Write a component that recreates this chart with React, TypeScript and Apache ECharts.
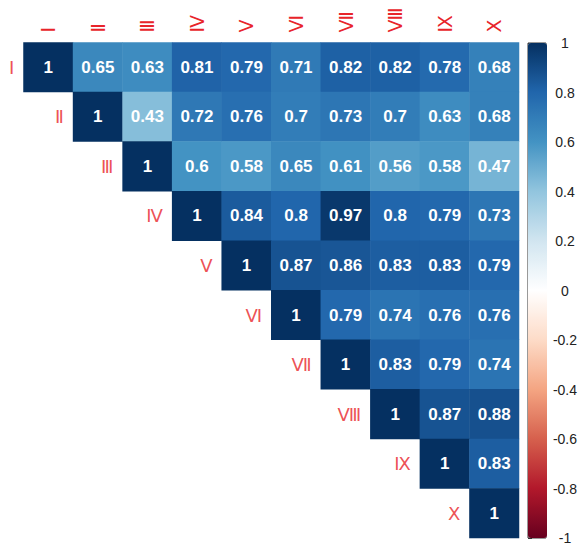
import React, { useEffect, useRef } from "react";
import * as echarts from "echarts";

const labels = ["Ⅰ", "Ⅱ", "Ⅲ", "Ⅳ", "Ⅴ", "Ⅵ", "Ⅶ", "Ⅷ", "Ⅸ", "Ⅹ"];

// upper triangle rows, starting at the diagonal
const rowI = [1, 0.65, 0.63, 0.81, 0.79, 0.71, 0.82, 0.82, 0.78, 0.68];
const rowII = [1, 0.43, 0.72, 0.76, 0.7, 0.73, 0.7, 0.63, 0.68];
const rowIII = [1, 0.6, 0.58, 0.65, 0.61, 0.56, 0.58, 0.47];
const rowIV = [1, 0.84, 0.8, 0.97, 0.8, 0.79, 0.73];
const rowV = [1, 0.87, 0.86, 0.83, 0.83, 0.79];
const rowVI = [1, 0.79, 0.74, 0.76, 0.76];
const rowVII = [1, 0.83, 0.79, 0.74];
const rowVIII = [1, 0.87, 0.88];
const rowIX = [1, 0.83];
const rowX = [1];
const rows = [rowI, rowII, rowIII, rowIV, rowV, rowVI, rowVII, rowVIII, rowIX, rowX];

const palette = [
  "#67001F", "#B2182B", "#D6604D", "#F4A582", "#FDDBC7", "#FFFFFF",
  "#D1E5F0", "#92C5DE", "#4393C3", "#2166AC", "#053061",
];

export default function App() {
  const ref = useRef<HTMLDivElement>(null);
  useEffect(() => {
    if (!ref.current) return;
    const chart = echarts.init(ref.current, undefined, { renderer: "svg" });
    const cells: any[] = [];
    rows.forEach((r, i) => {
      r.forEach((v, k) => {
        cells.push([i + k, i, v]);
      });
    });
    const rowLabelData = labels.map((l, i) => [i, i]);
    chart.setOption({
      animation: false,
      grid: [
        { left: 23.5, top: 42.5, width: 495.5, height: 495.5 },
        {
          left: 528, top: 43, width: 19, height: 495, show: true,
          borderColor: "#333", borderWidth: 1, backgroundColor: "transparent",
        },
      ],
      xAxis: [
        {
          type: "category", data: labels, position: "top", gridIndex: 0,
          axisLine: { show: false }, axisTick: { show: false }, splitLine: { show: false },
          axisLabel: {
            rotate: -90, color: "#E8242A", fontSize: 19, margin: 10,
            fontFamily: "DejaVu Sans",
          },
        },
        { type: "value", gridIndex: 1, show: false, min: 0, max: 1 },
      ],
      yAxis: [
        {
          type: "category", data: labels, inverse: true, gridIndex: 0,
          axisLine: { show: false }, axisTick: { show: false },
          axisLabel: { show: false }, splitLine: { show: false },
        },
        {
          type: "value", gridIndex: 1, min: -1, max: 1, interval: 0.2, position: "right",
          axisLine: { show: false }, splitLine: { show: false },
          axisTick: { show: true, length: 4, lineStyle: { color: "#333" } },
          axisLabel: {
            color: "#222", fontSize: 14, margin: 19, align: "center",
            fontFamily: "Liberation Sans",
            formatter: (v: number) => String(Math.round(v * 10) / 10),
          },
        },
      ],
      visualMap: {
        type: "continuous", min: -1, max: 1, seriesIndex: 0, calculable: false,
        left: 528, top: 43, itemWidth: 19, itemHeight: 495, padding: 0,
        inRange: { color: palette }, hoverLink: false,
      },
      series: [
        {
          type: "heatmap", xAxisIndex: 0, yAxisIndex: 0, data: cells,
          label: {
            show: true, color: "#fff", fontWeight: "bold", fontSize: 17,
            fontFamily: "Liberation Sans",
            formatter: (p: any) => String(p.value[2]),
          },
          emphasis: { disabled: true },
        },
        {
          type: "scatter", xAxisIndex: 0, yAxisIndex: 0, data: rowLabelData,
          symbolSize: 0, clip: false, silent: true,
          label: {
            show: true, position: "left", distance: 34, color: "#E8242A",
            fontSize: 18, fontFamily: "DejaVu Sans",
            formatter: (p: any) => labels[p.dataIndex],
          },
        },
        { type: "scatter", xAxisIndex: 1, yAxisIndex: 1, data: [], silent: true },
      ],
    });
    return () => chart.dispose();
  }, []);
  return (
    <div
      ref={ref}
      style={{ position: "fixed", left: 0, top: 0, width: 580, height: 548, background: "#fff" }}
    />
  );
}
